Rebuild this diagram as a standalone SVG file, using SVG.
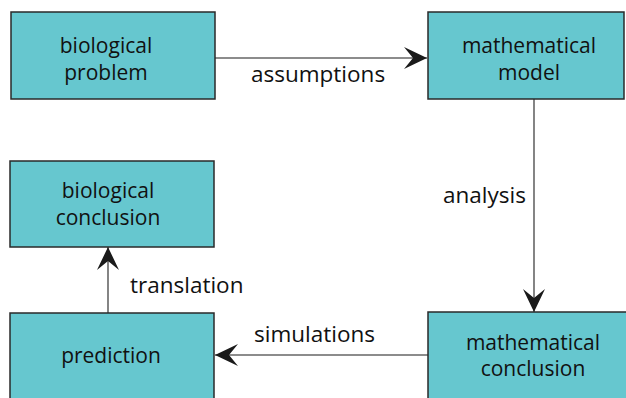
<svg xmlns="http://www.w3.org/2000/svg" width="626" height="398" viewBox="0 0 626 398">
<style>
.box{fill:#66c7cf;stroke:#2a2a2a;stroke-width:1.5}
.t{font-family:"Open Sans","Noto Sans",sans-serif;font-size:21px;fill:#111;text-anchor:middle}
.lbl{font-family:"Open Sans","Noto Sans",sans-serif;font-size:22.5px;fill:#111}
.c{stroke:#666;stroke-width:1.6;fill:none}
</style>
<defs>
<marker id="ah" markerUnits="userSpaceOnUse" markerWidth="26" markerHeight="26" viewBox="-24 -13 26 26" refX="0" refY="0" orient="auto">
<path d="M0,0 L-23,-11 L-14,0 L-23,11 Z" fill="#1a1a1a"/>
</marker>
</defs>
<g id="connectors">
<line class="c" x1="215" y1="58" x2="427" y2="58" marker-end="url(#ah)"/>
<line class="c" x1="534" y1="99" x2="534" y2="312" marker-end="url(#ah)"/>
<line class="c" x1="428" y1="355" x2="215" y2="355" marker-end="url(#ah)"/>
<line class="c" x1="108" y1="313" x2="108" y2="247" marker-end="url(#ah)"/>
<text class="lbl" x="251" y="82">assumptions</text>
<text class="lbl" x="443" y="203">analysis</text>
<text class="lbl" x="130" y="293">translation</text>
<text class="lbl" x="254" y="342">simulations</text>
</g>
<g id="biological-problem">
<rect class="box" x="11" y="12" width="204" height="87"/>
<text class="t" x="106" y="53">biological</text>
<text class="t" x="106" y="80">problem</text>
</g>
<g id="mathematical-model">
<rect class="box" x="428" y="12" width="196" height="87"/>
<text class="t" x="529" y="53">mathematical</text>
<text class="t" x="529" y="80">model</text>
</g>
<g id="biological-conclusion">
<rect class="box" x="10" y="161" width="204" height="86"/>
<text class="t" x="108" y="198">biological</text>
<text class="t" x="108" y="225">conclusion</text>
</g>
<g id="prediction">
<rect class="box" x="10" y="313" width="204" height="90"/>
<text class="t" x="111" y="363">prediction</text>
</g>
<g id="mathematical-conclusion">
<rect class="box" x="428" y="312" width="200" height="91"/>
<text class="t" x="533" y="350">mathematical</text>
<text class="t" x="533" y="376">conclusion</text>
</g>
</svg>
